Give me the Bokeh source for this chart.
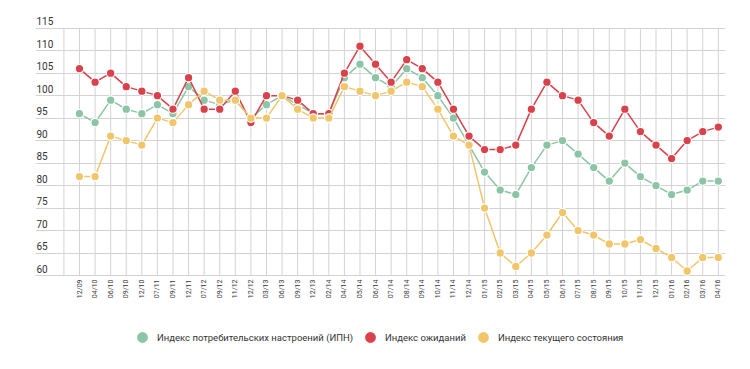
import math
from bokeh.plotting import figure
from bokeh.models import (ColumnDataSource, FixedTicker, Range1d, LabelSet,
                          Legend, LegendItem, Grid)
from bokeh.core.properties import value
from bokeh.embed import file_html
from bokeh.resources import INLINE

categories = ["12/09", "04/10", "06/10", "09/10", "12/10", "07/11", "09/11", "12/11",
              "07/12", "09/12", "11/12", "12/12", "03/13", "06/13", "09/13", "12/13",
              "02/14", "04/14", "05/14", "06/14", "07/14", "08/14", "09/14", "10/14",
              "11/14", "12/14", "01/15", "02/15", "03/15", "04/15", "05/15", "06/15",
              "07/15", "08/15", "09/15", "10/15", "11/15", "12/15", "01/16", "02/16",
              "03/16", "04/16"]

ipn = [96, 94, 99, 97, 96, 98, 96, 102, 99, 98, 99, 95, 98, 100, 98, 96, 96, 104, 107,
       104, 102, 106, 104, 100, 95, 89, 83, 79, 78, 84, 89, 90, 87, 84, 81, 85, 82, 80,
       78, 79, 81, 81]
expect = [106, 103, 105, 102, 101, 100, 97, 104, 97, 97, 101, 94, 100, 100, 99, 96, 96,
          105, 111, 107, 103, 108, 106, 103, 97, 91, 88, 88, 89, 97, 103, 100, 99, 94,
          91, 97, 92, 89, 86, 90, 92, 93]
current = [82, 82, 91, 90, 89, 95, 94, 98, 101, 99, 99, 95, 95, 100, 97, 95, 95, 102,
           101, 100, 101, 103, 102, 97, 91, 89, 75, 65, 62, 65, 69, 74, 70, 69, 67, 67,
           68, 66, 64, 61, 64, 64]

series_names = ["Индекс потребительских настроений (ИПН)", "Индекс ожиданий",
                "Индекс текущего состояния"]
series_colors = ["#8cc4a6", "#d9414b", "#f1c56a"]

y_ticks = [60, 65, 70, 75, 80, 85, 90, 95, 100, 105, 110, 115]
y_tick_labels = [str(t) for t in y_ticks]

FONT = "Roboto"
GRID = "#d3d3d3"
TEXT = "#333333"
idx = list(range(len(categories)))
grid_ticks = [-1] + idx

x_start, x_end = -2.824, 41.46
y_start, y_end = 39.095, 117.6
p = figure(width=750, height=369, output_backend="svg", toolbar_location=None,
           x_range=Range1d(x_start, x_end), y_range=Range1d(y_start, y_end),
           x_axis_location=None, y_axis_location=None,
           min_border_left=35, min_border_right=25, min_border_top=16,
           min_border_bottom=0)
p.outline_line_color = None
p.background_fill_color = "white"
p.xgrid.visible = False
p.ygrid.visible = False

# horizontal grid lines at the value ticks
hgrid = Grid(dimension=1, ticker=FixedTicker(ticks=y_ticks), grid_line_color=GRID,
             grid_line_width=1)
p.add_layout(hgrid, "center")

# vertical grid lines spanning only the value range 60..115
vsrc = ColumnDataSource(dict(x=grid_ticks, y0=[y_ticks[0]] * len(grid_ticks),
                             y1=[y_ticks[-1]] * len(grid_ticks)))
p.segment(x0="x", y0="y0", x1="x", y1="y1", source=vsrc, line_color=GRID, line_width=1)

# y labels sitting on top of grid lines
ylab_src = ColumnDataSource(dict(x=[x_start] * len(y_ticks), y=y_ticks, t=y_tick_labels))
p.add_layout(LabelSet(x="x", y="y", text="t", source=ylab_src, x_offset=1, y_offset=3,
                      text_align="left", text_baseline="bottom", text_font=value(FONT),
                      text_font_size="10px", text_color=TEXT))

# category labels, vertical, under the value range
xlab_src = ColumnDataSource(dict(x=idx, y=[y_ticks[0]] * len(idx), t=categories))
p.add_layout(LabelSet(x="x", y="y", text="t", source=xlab_src, y_offset=-4,
                      angle=math.pi / 2, text_align="right", text_baseline="middle",
                      text_font=value(FONT), text_font_size="7px", text_color=TEXT))

items = []
for name, vals, col in zip(series_names, [ipn, expect, current], series_colors):
    src = ColumnDataSource(dict(x=idx, y=vals))
    p.line("x", "y", source=src, line_color=col, line_width=1.5)
    r = p.scatter("x", "y", source=src, size=8.5, fill_color=col, line_color="white",
                  line_width=1.2)
    items.append(LegendItem(label=name, renderers=[r]))

legend = Legend(items=items, orientation="horizontal", location=(92, 17),
                glyph_width=30, glyph_height=30, label_standoff=0, spacing=2,
                padding=0, margin=0, border_line_color=None,
                background_fill_alpha=0, label_text_font=FONT,
                label_text_font_size="9.5px", label_text_color=TEXT)
p.add_layout(legend, "center")

open("out.html", "w").write(file_html(p, INLINE))
